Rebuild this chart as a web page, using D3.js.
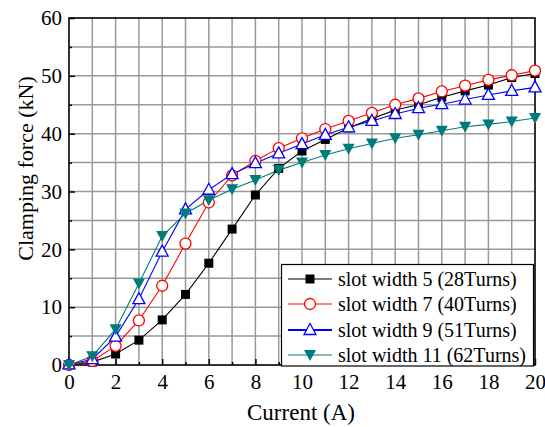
<!DOCTYPE html>
<html><head><meta charset="utf-8">
<script src="https://cdn.jsdelivr.net/npm/d3@7"></script>
<style>body{margin:0;background:#fff}svg{display:block}</style>
</head><body>
<script>
const current = [0,1,2,3,4,5,6,7,8,9,10,11,12,13,14,15,16,17,18,19,20];
const slot5  = [0,0.5,1.9,4.3,7.8,12.2,17.6,23.5,29.4,34.0,37.0,39.0,41.0,42.6,44.1,45.0,46.3,47.4,48.4,49.7,50.4];
const slot7  = [0,0.7,3.3,7.7,13.7,21.0,28.1,32.8,35.3,37.5,39.2,40.8,42.2,43.6,45.0,46.1,47.3,48.3,49.3,50.1,50.9];
const slot9  = [0.1,1.0,4.9,11.4,19.6,26.9,30.3,33.0,34.9,36.6,38.2,39.8,41.1,42.2,43.4,44.4,45.1,45.9,46.7,47.4,48.0];
const slot11 = [0,1.5,6.2,14.1,22.3,26.2,28.5,30.4,32.0,33.7,35.0,36.3,37.4,38.3,39.2,39.8,40.5,41.2,41.6,42.1,42.7];
const seriesNames = ["slot width 5 (28Turns)","slot width 7 (40Turns)","slot width 9 (51Turns)","slot width 11 (62Turns)"];
const xTicks = [0,2,4,6,8,10,12,14,16,18,20];
const yTicks = [0,10,20,30,40,50,60];

const W=545,H=427;
const m={l:69,r:10,t:18,b:62};
const svg=d3.select("body").append("svg").attr("width",W).attr("height",H);
const x=d3.scaleLinear().domain([0,20]).range([m.l,W-m.r]);
const y=d3.scaleLinear().domain([0,60]).range([H-m.b,m.t]);
const font="'Liberation Serif','Times New Roman',serif";

// grid
const g=svg.append("g");
g.selectAll(".gx").data(d3.range(1,20)).join("line")
 .attr("x1",d=>x(d)).attr("x2",d=>x(d)).attr("y1",y(0)).attr("y2",y(60))
 .attr("stroke","#999").attr("stroke-width",1.5);
g.selectAll(".gy").data(d3.range(5,60,5)).join("line")
 .attr("y1",d=>y(d)).attr("y2",d=>y(d)).attr("x1",x(0)).attr("x2",x(20))
 .attr("stroke","#999").attr("stroke-width",1.5);

// axes
const xAx=svg.append("g").attr("transform",`translate(0,${y(0)})`)
 .call(d3.axisBottom(x).tickValues(xTicks).tickSize(-6).tickPadding(9).tickFormat(d3.format("d")));
const yAx=svg.append("g").attr("transform",`translate(${x(0)},0)`)
 .call(d3.axisLeft(y).tickValues(yTicks).tickSize(-6).tickPadding(7).tickFormat(d3.format("d")));
const xMinor=svg.append("g").attr("transform",`translate(0,${y(0)})`)
 .call(d3.axisBottom(x).tickValues(d3.range(1,20,2)).tickSize(-3).tickFormat(""));
const yMinor=svg.append("g").attr("transform",`translate(${x(0)},0)`)
 .call(d3.axisLeft(y).tickValues(d3.range(5,60,10)).tickSize(-3).tickFormat(""));
[xAx,yAx,xMinor,yMinor].forEach(a=>{
  a.select(".domain").remove();
  a.selectAll("line").attr("stroke","#000").attr("stroke-width",1.5);
  a.selectAll("text").attr("font-family",font).attr("font-size",21).attr("fill","#000");
});
svg.append("rect").attr("x",x(0)).attr("y",y(60)).attr("width",x(20)-x(0)).attr("height",y(0)-y(60))
 .attr("fill","none").attr("stroke","#000").attr("stroke-width",1.6);

// titles
svg.append("text").attr("x",301).attr("y",420).attr("text-anchor","middle")
 .attr("font-family",font).attr("font-size",23).text("Current (A)");
svg.append("text").attr("transform",`translate(33,168.5) rotate(-90)`).attr("text-anchor","middle")
 .attr("font-family",font).attr("font-size",22).text("Clamping force (kN)");

const series=[
 {vals:slot5,color:"#000",marker:"square",fill:"#000"},
 {vals:slot7,color:"#ff0000",marker:"circle",fill:"#fff"},
 {vals:slot9,color:"#0000ff",marker:"triup",fill:"#fff"},
 {vals:slot11,color:"#007b7b",marker:"tridown",fill:"#007b7b"}
];
function drawMarker(sel,s,cx,cy){
  if(s.marker==="square") sel.append("rect").attr("x",cx-4.5).attr("y",cy-4.5).attr("width",9).attr("height",9).attr("fill",s.fill);
  else if(s.marker==="circle") sel.append("circle").attr("cx",cx).attr("cy",cy).attr("r",5.5).attr("fill",s.fill).attr("stroke",s.color).attr("stroke-width",1.3);
  else if(s.marker==="triup") sel.append("path").attr("d",`M${cx},${cy-6.5}L${cx+6},${cy+4.5}L${cx-6},${cy+4.5}Z`).attr("fill",s.fill).attr("stroke",s.color).attr("stroke-width",1.3);
  else sel.append("path").attr("d",`M${cx-6},${cy-5}L${cx+6},${cy-5}L${cx},${cy+6}Z`).attr("fill",s.fill);
}
const line=d3.line().x((d,i)=>x(current[i])).y(d=>y(d));
series.forEach(s=>{
  svg.append("path").datum(s.vals).attr("d",line).attr("fill","none").attr("stroke",s.color).attr("stroke-width",1.1);
});
series.forEach(s=>{
  const gg=svg.append("g");
  s.vals.forEach((v,i)=>drawMarker(gg,s,x(current[i]),y(v)));
});

// legend
const lg=svg.append("g");
lg.append("rect").attr("x",281.5).attr("y",264.5).attr("width",252).attr("height",101.5)
 .attr("fill","#fff").attr("stroke","#000").attr("stroke-width",1.2);
const ly=[279,304,330,355];
series.forEach((s,i)=>{
  lg.append("line").attr("x1",288).attr("x2",332).attr("y1",ly[i]).attr("y2",ly[i]).attr("stroke",s.color).attr("stroke-width",i===2?2:1.1);
  drawMarker(lg,s,310,ly[i]);
  lg.append("text").attr("x",338).attr("y",ly[i]+7).attr("font-family",font).attr("font-size",20).text(seriesNames[i]);
});
</script>
</body></html>
